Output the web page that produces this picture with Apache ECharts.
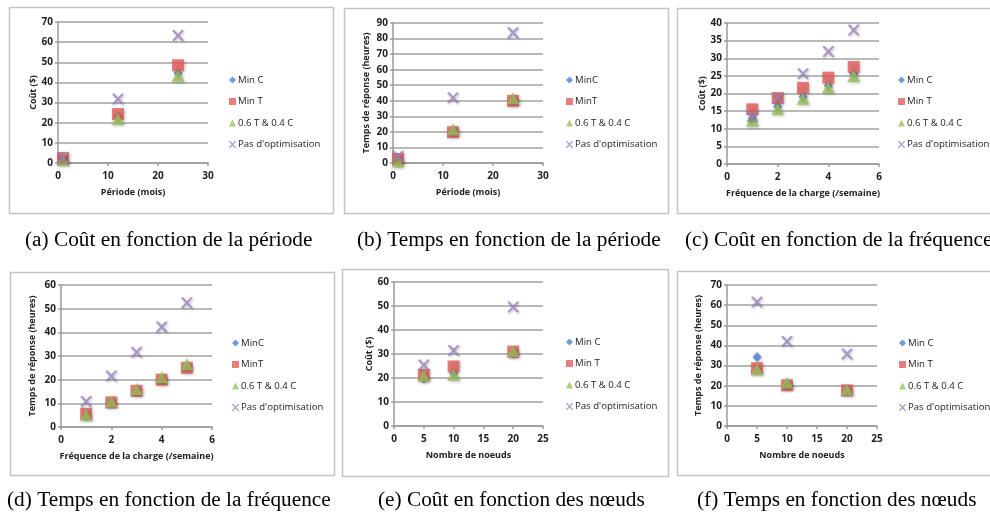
<!DOCTYPE html>
<html><head><meta charset="utf-8">
<script src="https://cdn.jsdelivr.net/npm/echarts@6/dist/echarts.min.js"></script>
<style>html,body{margin:0;padding:0;background:#fff}#c{width:990px;height:515px}</style>
</head><body><div id="c"></div><script>
// ---- categories / x values ----
const periodX = [1, 12, 24];
const freqX = [1, 2, 3, 4, 5];
const nodesX = [5, 10, 20];

// ---- (a) Coût en fonction de la période ----
const a_minC = [2, 23, 44.5];
const a_minT = [2.5, 24.3, 48.5];
const a_mix  = [1.5, 21.8, 43.3];
const a_none = [2.5, 31.8, 63.3];
// ---- (b) Temps en fonction de la période ----
const b_minC = [1.5, 21, 41];
const b_minT = [2.6, 19.8, 40];
const b_mix  = [1, 21.6, 41.6];
const b_none = [4.3, 42, 83.8];
// ---- (c) Coût en fonction de la fréquence ----
const c_minC = [13, 16.3, 19.1, 22.2, 25.6];
const c_minT = [15.5, 18.7, 21.6, 24.5, 27.5];
const c_mix  = [12.3, 15.6, 18.5, 21.7, 25];
const c_none = [13.5, 18.8, 25.6, 31.9, 38];
// ---- (d) Temps en fonction de la fréquence ----
const d_minC = [5.3, 10.5, 15.6, 20.5, 25.6];
const d_minT = [5.6, 10.4, 15.3, 20, 25];
const d_mix  = [5.2, 10.8, 16.1, 21, 26.5];
const d_none = [10.8, 21.5, 31.6, 42.3, 52.5];
// ---- (e) Coût en fonction des nœuds ----
const e_minC = [19.9, 22, 30.5];
const e_minT = [21.3, 24.8, 31];
const e_mix  = [20.9, 21.4, 31.3];
const e_none = [25.4, 31.5, 49.6];
// ---- (f) Temps en fonction des nœuds ----
const f_minC = [34.3, 20.5, 18];
const f_minT = [28.7, 20.2, 17.7];
const f_mix  = [28.2, 21.6, 18.1];
const f_none = [61.5, 42, 35.8];

// ---- texts ----
const captions = [
  "(a) Coût en fonction de la période",
  "(b) Temps en fonction de la période",
  "(c) Coût en fonction de la fréquence",
  "(d) Temps en fonction de la fréquence",
  "(e) Coût en fonction des nœuds",
  "(f) Temps en fonction des nœuds"
];
const xNames = ["Période (mois)", "Période (mois)", "Fréquence de la charge (/semaine)",
  "Fréquence de la charge (/semaine)", "Nombre de noeuds", "Nombre de noeuds"];
const yNames = ["Coût ($)", "Temps de réponse (heures)", "Coût ($)",
  "Temps de réponse (heures)", "Coût ($)", "Temps de réponse (heures)"];
const legendNamesA = ["Min C", "Min T", "0.6 T & 0.4 C", "Pas d'optimisation"];
const legendNamesB = ["MinC", "MinT", "0.6 T & 0.4 C", "Pas d'optimisation"];
const xTicks = [[0, 30, 10], [0, 30, 10], [0, 6, 2], [0, 6, 2], [0, 25, 5], [0, 25, 5]];
const yTicks = [[0, 70, 10], [0, 90, 10], [0, 40, 5], [0, 60, 10], [0, 60, 10], [0, 70, 10]];

const panels = [
  {x: periodX, s: [a_minC, a_minT, a_mix, a_none], names: legendNamesA},
  {x: periodX, s: [b_minC, b_minT, b_mix, b_none], names: legendNamesB},
  {x: freqX,   s: [c_minC, c_minT, c_mix, c_none], names: legendNamesA},
  {x: freqX,   s: [d_minC, d_minT, d_mix, d_none], names: legendNamesB},
  {x: nodesX,  s: [e_minC, e_minT, e_mix, e_none], names: legendNamesA},
  {x: nodesX,  s: [f_minC, f_minT, f_mix, f_none], names: legendNamesA}
];

// ---- layout ----
const grids = [
  {left: 58, top: 22, width: 150, height: 141},
  {left: 393, top: 23, width: 150, height: 140},
  {left: 727, top: 23, width: 152, height: 141},
  {left: 61, top: 285, width: 151, height: 142},
  {left: 394, top: 282, width: 149, height: 144},
  {left: 727, top: 285, width: 150, height: 141}
];
const boxes = [[9, 7, 324, 206], [344, 8, 324, 205], [677, 8, 330, 205],
  [10, 272, 324, 203], [342, 269, 326, 207], [677, 271, 330, 204]];
const legendPos = [[229, 75], [566, 75], [898, 75], [232, 338], [566, 337], [899, 338]];
const captionPos = [[25, 230], [357, 230], [685, 230], [7, 490], [378, 490], [697, 490]];
const yNameGap = [20, 22, 20, 24, 20, 24];

const XPATH = 'path://M0,0L1.6,0L5,3.6L8.4,0L10,0L10,1.2L6.2,5L10,8.8L10,10L8.4,10L5,6.4L1.6,10L0,10L0,8.8L3.8,5L0,1.2Z';
const colors = ['#4a83cf', '#e35c5a', '#9cc05c', '#9a84c2'];
const symbols = ['diamond', 'rect', 'triangle', XPATH];
const sizes = [[9, 10], 12, [13, 12], 11];
const font = 'Open Sans';

const option = {
  animation: false,
  backgroundColor: '#fff',
  grid: grids.map(g => Object.assign({containLabel: false}, g)),
  xAxis: [], yAxis: [], series: [], legend: [], title: [],
  graphic: boxes.map(b => ({
    type: 'rect', z: -1, silent: true,
    shape: {x: b[0] + 0.5, y: b[1] + 0.5, width: b[2], height: b[3]},
    style: {fill: 'none', stroke: '#c4c4c4', lineWidth: 1.5}
  }))
};

panels.forEach((p, i) => {
  option.xAxis.push({
    type: 'value', gridIndex: i, min: xTicks[i][0], max: xTicks[i][1], interval: xTicks[i][2],
    name: xNames[i], nameLocation: 'middle', nameGap: 25,
    nameTextStyle: {fontFamily: font, fontSize: 9, fontWeight: 'bold', color: '#222'},
    axisLine: {show: true, onZero: false, lineStyle: {color: '#9a9a9a', width: 1.5}},
    axisTick: {show: true, length: 3, lineStyle: {color: '#9a9a9a', width: 1.5}},
    axisLabel: {fontFamily: font, fontSize: 10, fontWeight: 'bold', color: '#222', margin: 8},
    splitLine: {show: false}
  });
  option.yAxis.push({
    type: 'value', gridIndex: i, min: yTicks[i][0], max: yTicks[i][1], interval: yTicks[i][2],
    name: yNames[i], nameLocation: 'middle', nameGap: yNameGap[i], nameRotate: 90,
    nameTextStyle: {fontFamily: font, fontSize: 9, fontWeight: 'bold', color: '#222'},
    axisLine: {show: true, lineStyle: {color: '#9a9a9a', width: 1.5}},
    axisTick: {show: true, length: 3, lineStyle: {color: '#9a9a9a', width: 1.5}},
    axisLabel: {fontFamily: font, fontSize: 10, fontWeight: 'bold', color: '#222', margin: 5},
    splitLine: {show: true, lineStyle: {color: '#b9b9b9', width: 2}}
  });
  p.s.forEach((vals, k) => {
    option.series.push({
      type: 'scatter', name: p.names[k], xAxisIndex: i, yAxisIndex: i,
      symbol: symbols[k], symbolSize: sizes[k], z: 2 + k,
      itemStyle: {color: colors[k], shadowBlur: 3, shadowColor: 'rgba(0,0,0,0.35)', shadowOffsetX: 1, shadowOffsetY: 1},
      data: vals.map((v, j) => [p.x[j], v])
    });
  });
  option.legend.push({
    orient: 'vertical', left: legendPos[i][0], top: legendPos[i][1], padding: 0,
    itemWidth: 7, itemHeight: 7, itemGap: 11.5, selectedMode: false,
    textStyle: {fontFamily: font, fontSize: 9.6, color: '#222', padding: [0, 0, 0, -3]},
    data: p.names.map((n, k) => ({name: n, icon: symbols[k]}))
  });
  option.title.push({
    text: captions[i], left: captionPos[i][0], top: captionPos[i][1], padding: 0,
    textStyle: {fontFamily: 'Liberation Serif', fontSize: 21.3, fontWeight: 'normal', color: '#000'}
  });
});

const chart = echarts.init(document.getElementById('c'), null, {renderer: 'canvas'});
chart.setOption(option);
</script></body></html>
